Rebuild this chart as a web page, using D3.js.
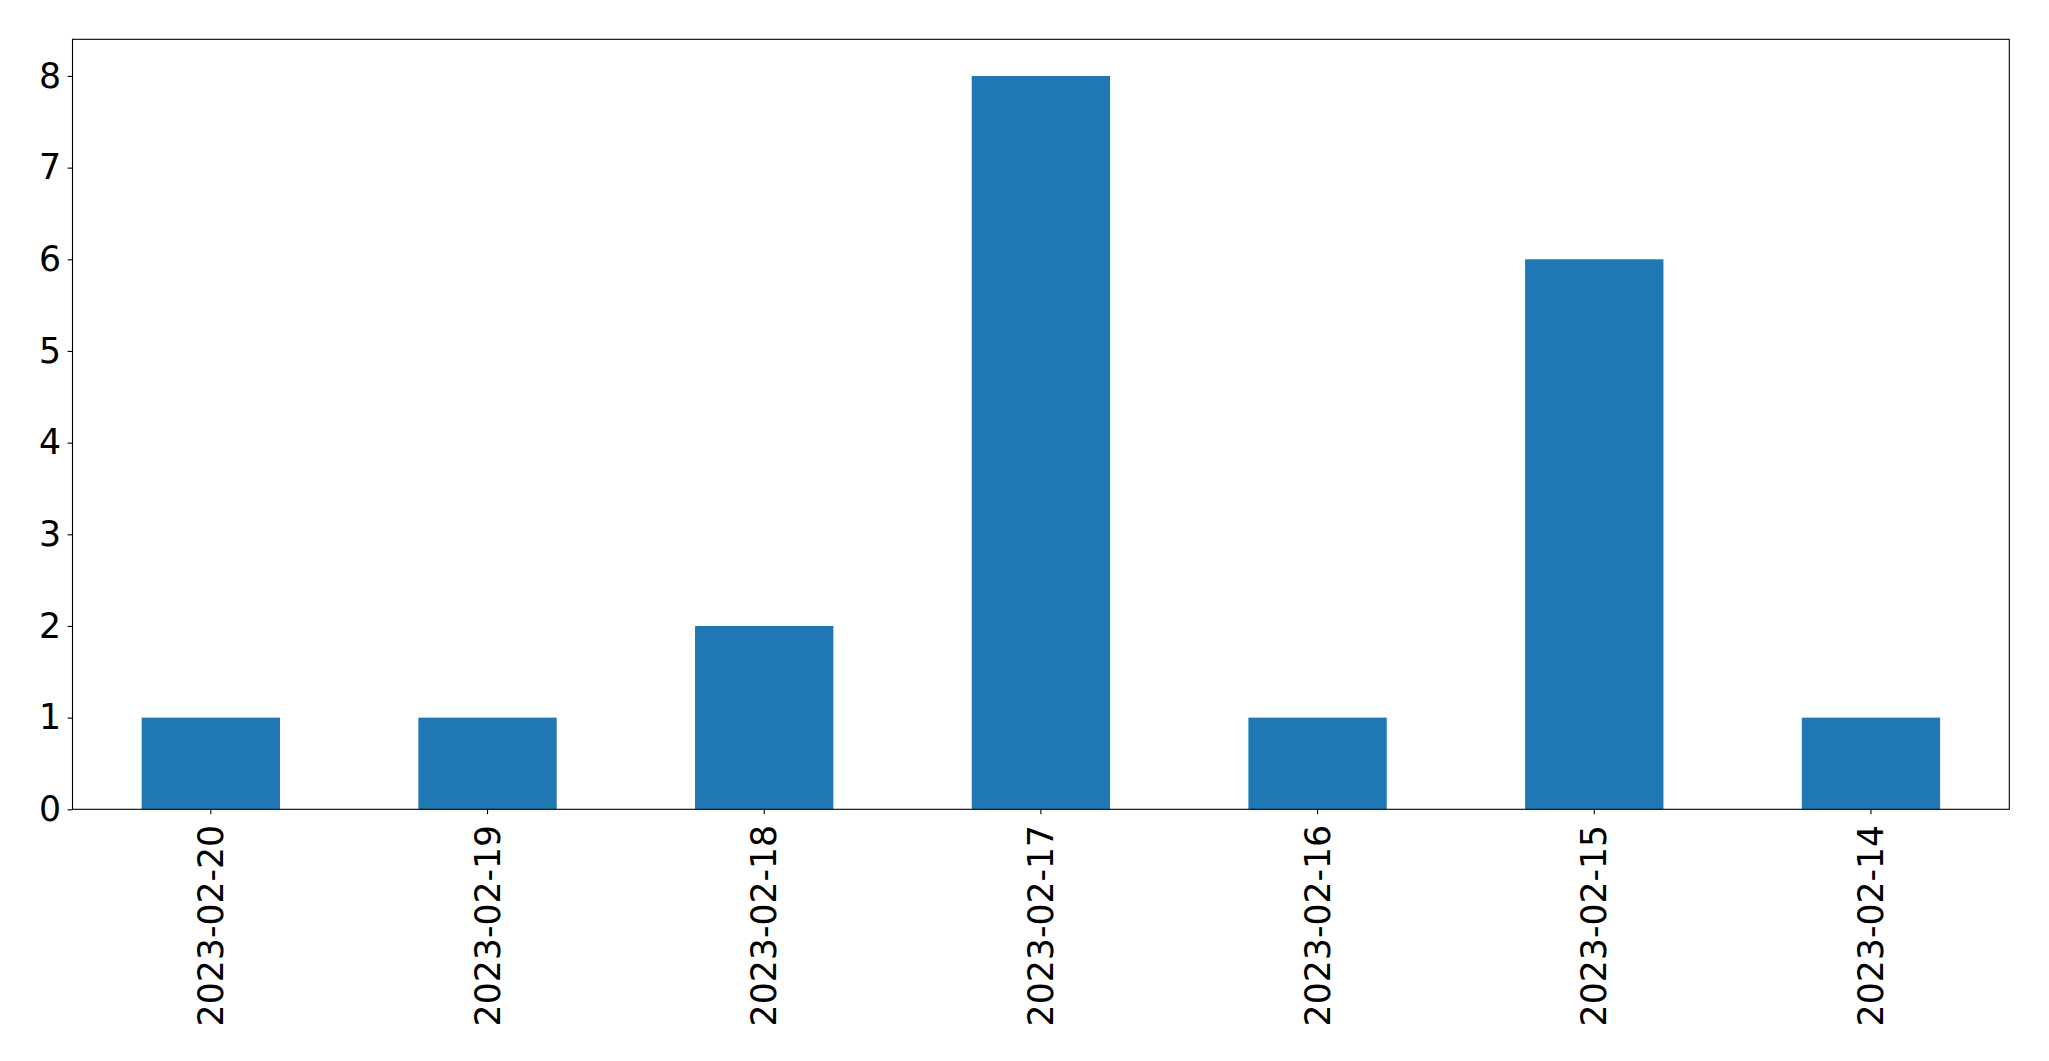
<!DOCTYPE html>
<html><head><meta charset="utf-8">
<script src="https://cdn.jsdelivr.net/npm/d3@7"></script>
<style>html,body{margin:0;padding:0;background:#fff;}</style>
</head><body>
<script>
const categories = ["2023-02-20","2023-02-19","2023-02-18","2023-02-17","2023-02-16","2023-02-15","2023-02-14"];
const values = [1,1,2,8,1,6,1];
const yTicks = [0,1,2,3,4,5,6,7,8];

const W = 2049, H = 1061;
const m = {left:72.5, top:39.3, right:2049-2009.3, bottom:1061-809.3};
const svg = d3.select("body").append("svg").attr("width",W).attr("height",H);

const x = d3.scaleBand().domain(categories).range([m.left, W-m.right]).paddingInner(0.5).paddingOuter(0.25);
const y = d3.scaleLinear().domain([0, 8.4]).range([H-m.bottom, m.top]);

svg.append("g").selectAll("rect").data(values).join("rect")
  .attr("x",(d,i)=>x(categories[i]))
  .attr("width",x.bandwidth())
  .attr("y",d=>y(d))
  .attr("height",d=>y(0)-y(d))
  .attr("fill","#1f77b4");

const fs = 34.7;
const yAxis = svg.append("g").attr("transform",`translate(${m.left},0)`)
  .call(d3.axisLeft(y).tickValues(yTicks).tickFormat(d3.format("d")).tickSize(4.9).tickPadding(6.5));
yAxis.attr("font-family",null).attr("font-size",null);
yAxis.select(".domain").remove();
yAxis.selectAll("text").style("font-family","'DejaVu Sans'").style("font-size",fs+"px").attr("fill","#000");
yAxis.selectAll("line").attr("stroke","#000").attr("stroke-width",1.1);

const xAxis = svg.append("g").attr("transform",`translate(0,${H-m.bottom})`)
  .call(d3.axisBottom(x).tickSize(4.9).tickPadding(0));
xAxis.attr("font-family",null).attr("font-size",null);
xAxis.select(".domain").remove();
xAxis.selectAll("line").attr("stroke","#000").attr("stroke-width",1.1);
xAxis.selectAll("text").style("font-family","'DejaVu Sans'").style("font-size",fs+"px").attr("fill","#000")
  .attr("transform","rotate(-90)")
  .attr("text-anchor","end").attr("x",-15.5).attr("y",0).attr("dy","0.35em");

svg.append("rect").attr("x",m.left).attr("y",m.top)
  .attr("width",W-m.left-m.right).attr("height",H-m.top-m.bottom)
  .attr("fill","none").attr("stroke","#000").attr("stroke-width",1.1);
</script>
</body></html>
